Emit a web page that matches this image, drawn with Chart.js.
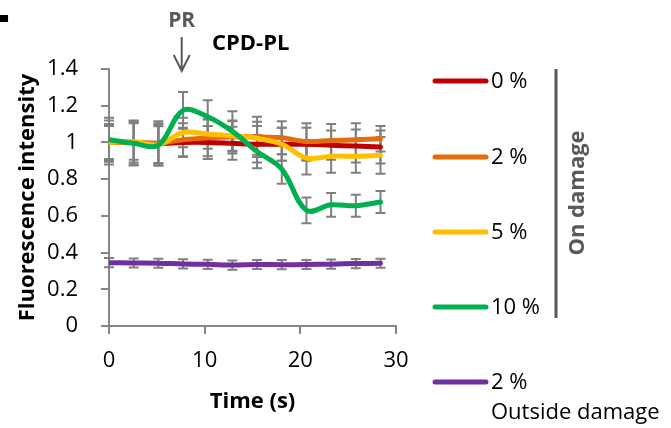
<!DOCTYPE html>
<html>
<head>
<meta charset="utf-8">
<script src="https://cdn.jsdelivr.net/npm/chart.js@4.4.1/dist/chart.umd.min.js"></script>
<style>
  html, body { margin: 0; padding: 0; background: #ffffff; }
  canvas { display: block; }
</style>
</head>
<body>
<canvas id="chart" width="671" height="428"></canvas>
<script>
// Sampling times (s)
const timeS = [0, 2.58, 5.16, 7.74, 10.32, 12.9, 15.48, 18.06, 20.64, 23.22, 25.8, 28.38];

// Normalised fluorescence intensity per damage level, with error (±)
const on0 = [1.0, 1.0, 0.995, 1.0, 1.0, 0.995, 0.99, 0.99, 0.99, 0.985, 0.98, 0.975];
const on0Err = [0.10, 0.11, 0.11, 0.08, 0.09, 0.09, 0.10, 0.09, 0.09, 0.08, 0.09, 0.09];

const on2 = [1.0, 1.0, 0.995, 1.015, 1.025, 1.03, 1.03, 1.025, 1.005, 1.01, 1.015, 1.02];
const on2Err = [0.12, 0.12, 0.12, 0.09, 0.10, 0.09, 0.11, 0.09, 0.10, 0.09, 0.09, 0.07];

const on5 = [1.0, 1.005, 0.988, 1.054, 1.046, 1.035, 1.023, 0.99, 0.915, 0.925, 0.925, 0.93];
const on5Err = [0.09, 0.10, 0.10, 0.08, 0.08, 0.08, 0.09, 0.09, 0.09, 0.09, 0.09, 0.10];

const on10 = [1.015, 0.995, 0.985, 1.175, 1.14, 1.06, 0.95, 0.855, 0.63, 0.66, 0.655, 0.675];
const on10Err = [0.12, 0.12, 0.11, 0.10, 0.09, 0.11, 0.09, 0.08, 0.07, 0.065, 0.06, 0.06];

const out2 = [0.345, 0.343, 0.342, 0.338, 0.336, 0.332, 0.335, 0.334, 0.335, 0.337, 0.340, 0.342];
const out2Err = [0.025, 0.025, 0.025, 0.025, 0.025, 0.025, 0.025, 0.025, 0.025, 0.025, 0.025, 0.025];

const seriesLabels = ['0 %', '2 %', '5 %', '10 %', '2 %'];
const seriesColors = ['#C00000', '#E46C0A', '#FFC000', '#00B050', '#7030A0'];

const xTickValues = [0, 10, 20, 30];
const yTickValues = [0, 0.2, 0.4, 0.6, 0.8, 1, 1.2, 1.4];

const FONT = "'Open Sans', 'DejaVu Sans', sans-serif";
Chart.defaults.font.family = FONT;

function points(values) {
  return values.map((v, i) => ({ x: timeS[i], y: v }));
}

const seriesValues = [on0, on2, on5, on10, out2];
const seriesErrors = [on0Err, on2Err, on5Err, on10Err, out2Err];
// later series are painted over earlier ones
const drawOrder = [5, 4, 3, 2, 1];

const datasets = seriesValues.map((vals, i) => ({
  label: seriesLabels[i],
  data: points(vals),
  errors: seriesErrors[i],
  borderColor: seriesColors[i],
  backgroundColor: seriesColors[i],
  borderWidth: 5,
  borderCapStyle: 'round',
  borderJoinStyle: 'round',
  pointRadius: 0,
  tension: 0.35,
  fill: false,
  order: drawOrder[i]
}));

// Grey error bars with caps, drawn beneath the lines
const errorBars = {
  id: 'errorBars',
  beforeDatasetsDraw(chart) {
    const { ctx, scales: { x, y } } = chart;
    ctx.save();
    ctx.strokeStyle = '#808080';
    ctx.lineWidth = 2;
    chart.data.datasets.forEach(ds => {
      const errs = ds.errors;
      if (!errs) return;
      ds.data.forEach((p, j) => {
        const px = x.getPixelForValue(p.x);
        const top = y.getPixelForValue(p.y + errs[j]);
        const bot = y.getPixelForValue(p.y - errs[j]);
        ctx.beginPath();
        ctx.moveTo(px, top); ctx.lineTo(px, bot);
        ctx.moveTo(px - 5, top); ctx.lineTo(px + 5, top);
        ctx.moveTo(px - 5, bot); ctx.lineTo(px + 5, bot);
        ctx.stroke();
      });
    });
    ctx.restore();
  }
};

// Side legend, "On damage" bracket and the PR / CPD-PL annotations
const decorations = {
  id: 'decorations',
  afterDraw(chart) {
    const { ctx, scales: { x } } = chart;
    ctx.save();

    // panel letter, clipped at the page corner
    ctx.save();
    ctx.beginPath();
    ctx.rect(0, 12, 14, 12);
    ctx.clip();
    ctx.fillStyle = '#000000';
    ctx.font = `bold 56px ${FONT}`;
    ctx.textAlign = 'left';
    ctx.textBaseline = 'alphabetic';
    ctx.fillText('E', -20, 22);
    ctx.restore();

    // PR arrow
    const prX = x.getPixelForValue(7.6);
    ctx.fillStyle = '#595959';
    ctx.font = `bold 21px ${FONT}`;
    ctx.textAlign = 'center';
    ctx.textBaseline = 'middle';
    ctx.fillText('PR', prX, 21);
    ctx.strokeStyle = '#595959';
    ctx.lineWidth = 2;
    ctx.beginPath();
    ctx.moveTo(prX, 37); ctx.lineTo(prX, 71);
    ctx.moveTo(prX - 8, 55); ctx.lineTo(prX, 71); ctx.lineTo(prX + 8, 55);
    ctx.stroke();

    ctx.fillStyle = '#000000';
    ctx.font = `bold 22px ${FONT}`;
    ctx.textAlign = 'left';
    ctx.fillText('CPD-PL', 212, 44);

    // legend
    const legendY = [81, 157, 232, 307, 382];
    ctx.lineCap = 'round';
    ctx.font = `22px ${FONT}`;
    ctx.textBaseline = 'middle';
    seriesLabels.forEach((lab, i) => {
      ctx.strokeStyle = seriesColors[i];
      ctx.lineWidth = 5;
      ctx.beginPath();
      ctx.moveTo(435, legendY[i]);
      ctx.lineTo(486, legendY[i]);
      ctx.stroke();
      ctx.fillStyle = '#000000';
      ctx.fillText(lab, 491, legendY[i] + 1);
    });
    ctx.fillText('Outside damage', 491, 413);

    // bracket grouping the on-damage series
    ctx.lineCap = 'butt';
    ctx.strokeStyle = '#595959';
    ctx.lineWidth = 3;
    ctx.beginPath();
    ctx.moveTo(556, 69); ctx.lineTo(556, 318);
    ctx.stroke();

    ctx.save();
    ctx.translate(578, 193);
    ctx.rotate(-Math.PI / 2);
    ctx.fillStyle = '#595959';
    ctx.font = `bold 22px ${FONT}`;
    ctx.textAlign = 'center';
    ctx.textBaseline = 'middle';
    ctx.fillText('On damage', 0, 0);
    ctx.restore();

    ctx.restore();
  }
};

const axisGrey = '#868686';

new Chart(document.getElementById('chart'), {
  type: 'line',
  data: { datasets },
  options: {
    responsive: false,
    animation: false,
    devicePixelRatio: 1,
    layout: { padding: { left: 0, top: 69, right: 275, bottom: 0 } },
    plugins: { legend: { display: false }, tooltip: { enabled: false } },
    scales: {
      x: {
        type: 'linear',
        min: 0, max: 30,
        afterBuildTicks: s => { s.ticks = xTickValues.map(v => ({ value: v })); },
        afterFit: s => { s.height = 102; },
        ticks: { color: '#000000', font: { size: 22 }, padding: 14, maxRotation: 0 },
        grid: { drawOnChartArea: false, drawTicks: true, tickLength: 8, color: axisGrey, lineWidth: 2 },
        border: { display: true, color: axisGrey, width: 2 },
        title: { display: true, text: 'Time (s)', color: '#000000', font: { size: 22, weight: 'bold' }, padding: { top: 0, bottom: 13 } }
      },
      y: {
        type: 'linear',
        min: 0, max: 1.4,
        afterBuildTicks: s => { s.ticks = yTickValues.map(v => ({ value: v })); },
        afterFit: s => { s.width = 109; },
        ticks: { color: '#000000', font: { size: 22 }, padding: 23, callback: v => String(v) },
        grid: { drawOnChartArea: false, drawTicks: true, tickLength: 8, color: axisGrey, lineWidth: 2 },
        border: { display: true, color: axisGrey, width: 2 },
        title: { display: true, text: 'Fluorescence intensity', color: '#000000', font: { size: 22, weight: 'bold' }, padding: { top: 15, bottom: 0 } }
      }
    }
  },
  plugins: [errorBars, decorations]
});
</script>
</body>
</html>
